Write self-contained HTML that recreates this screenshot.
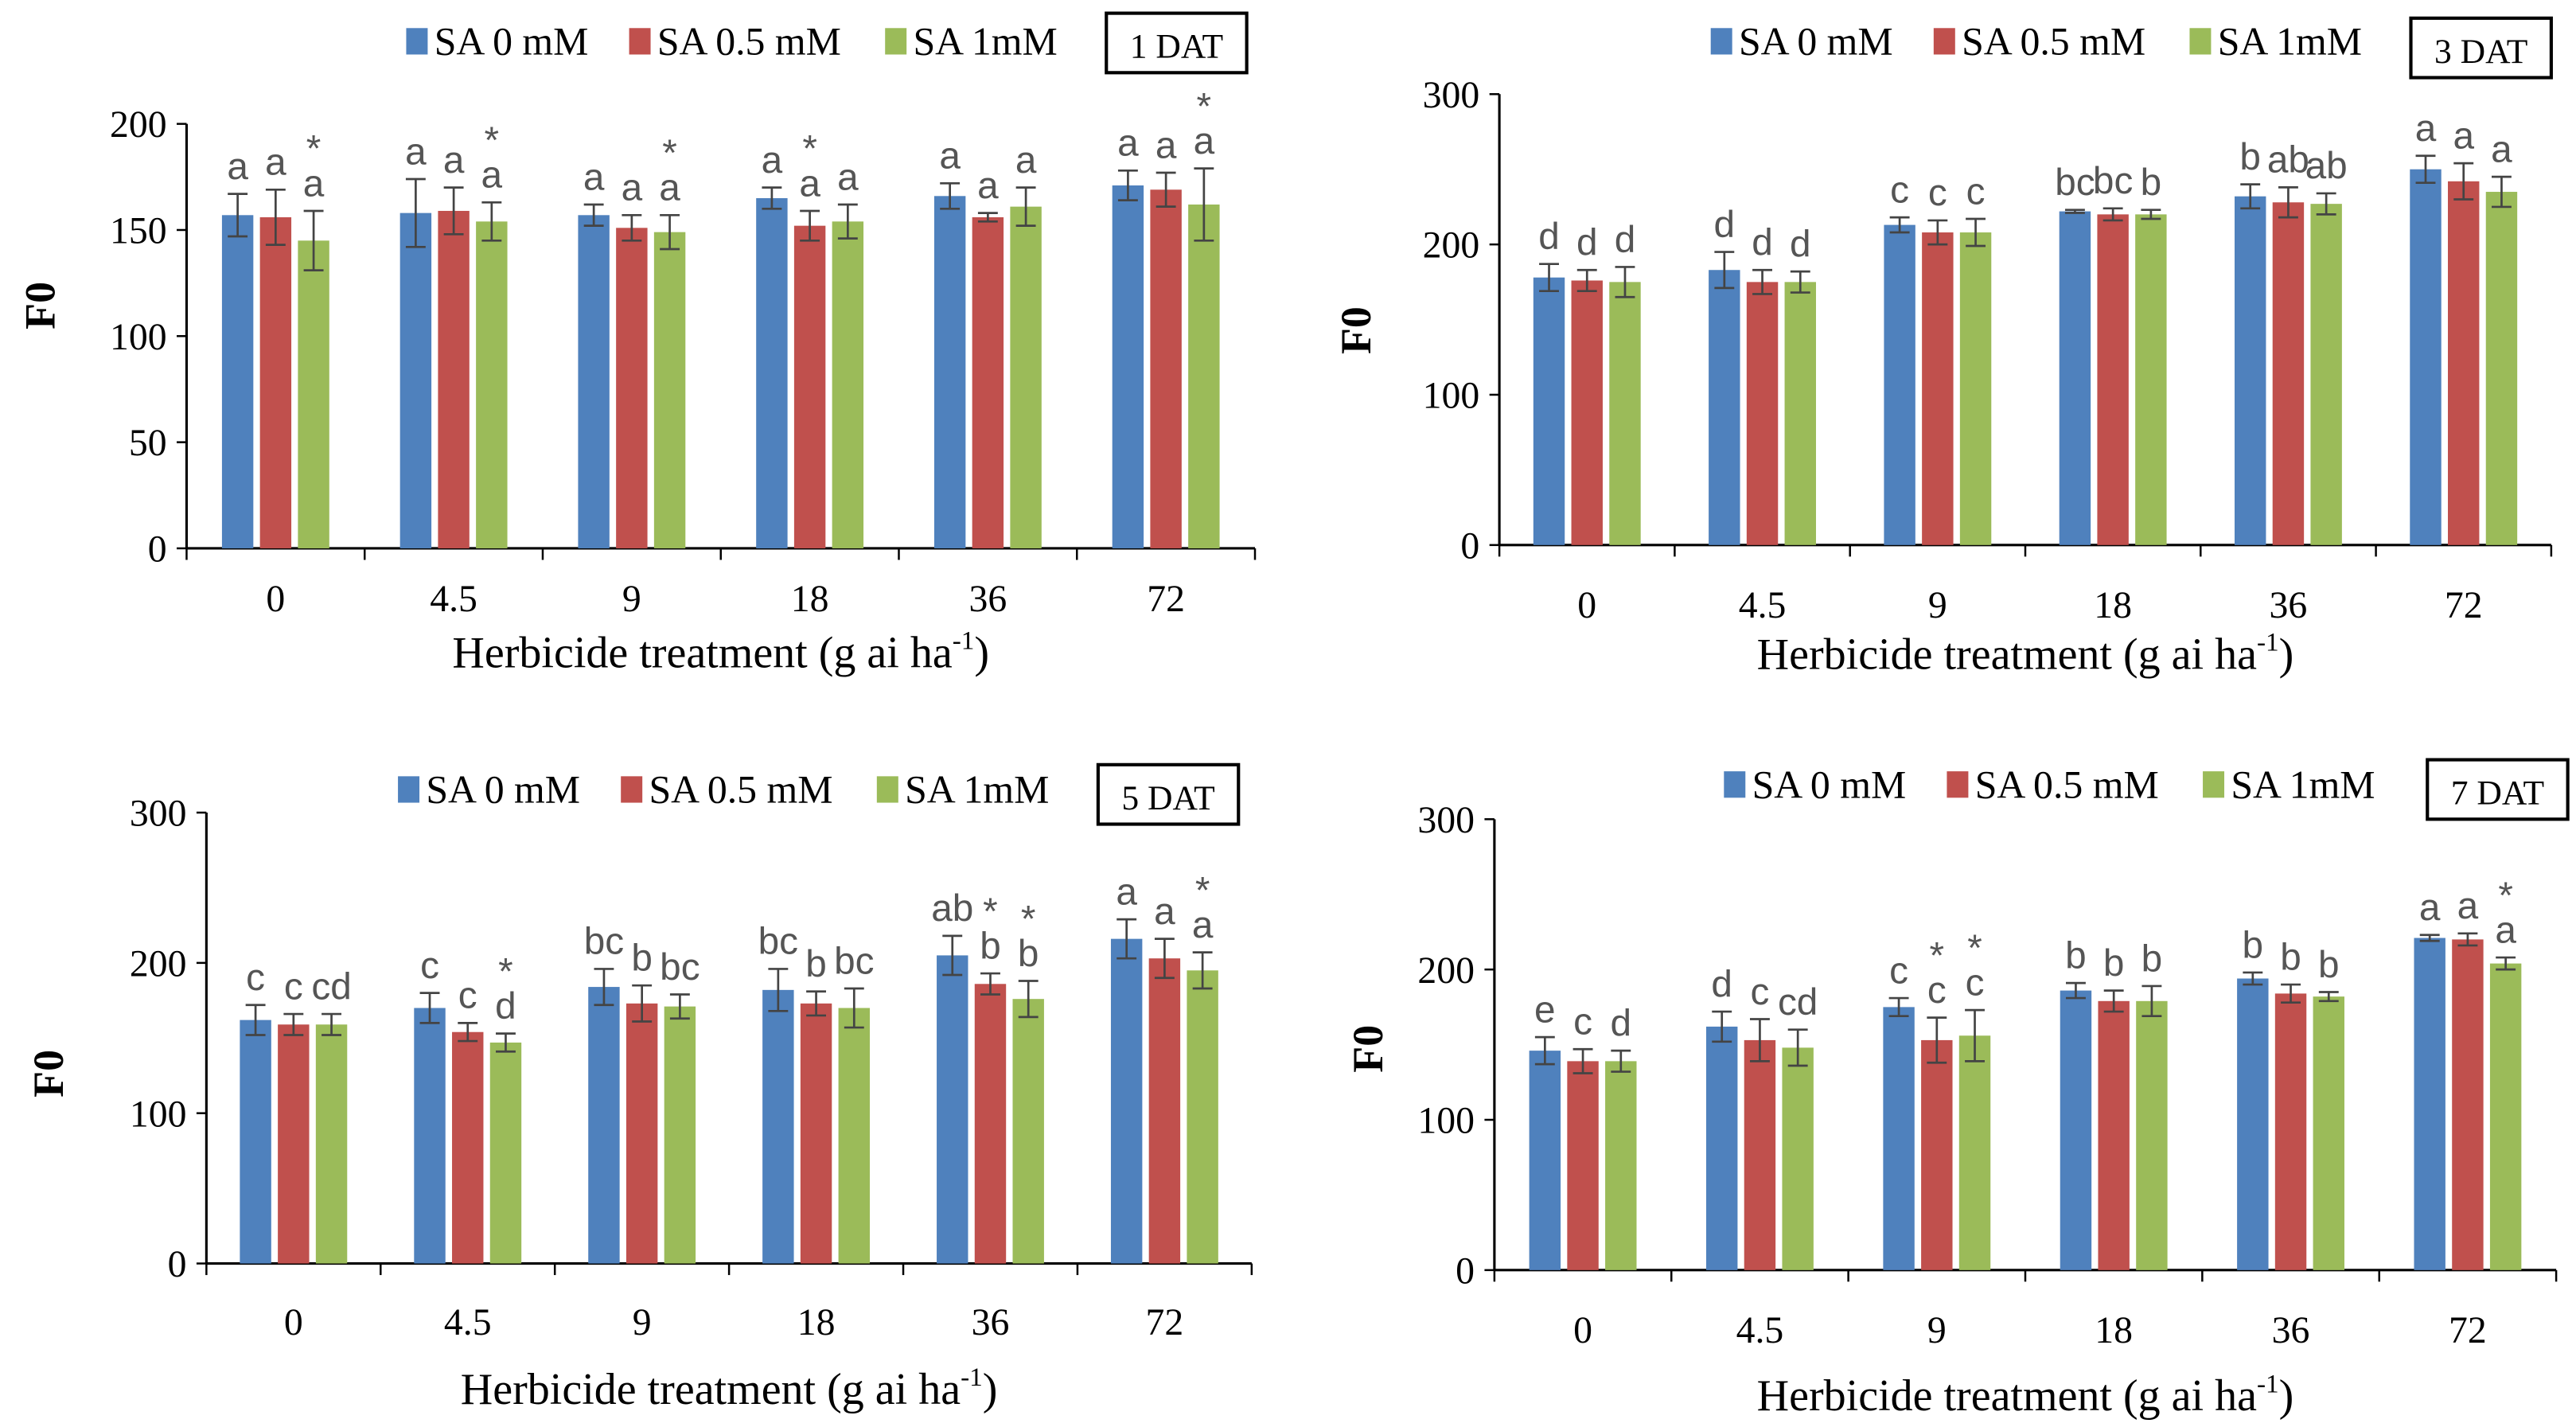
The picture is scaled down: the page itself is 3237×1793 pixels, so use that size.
<!DOCTYPE html>
<html><head><meta charset="utf-8"><style>
html,body{margin:0;padding:0;background:#fff}
svg{display:block}
text{font-family:"Liberation Serif",serif}
.ltr{font-family:"Liberation Sans",sans-serif;fill:#555}
</style></head><body>
<svg id="fig" width="3237" height="1793" viewBox="0 0 1560 864" preserveAspectRatio="none" xmlns="http://www.w3.org/2000/svg"></svg>
<script>
const categories = ["0","4.5","9","18","36","72"];
const seriesNames = ["SA 0 mM","SA 0.5 mM","SA 1mM"];
const colors = ["#4f81bd","#c0504d","#9bbb59"];
// Panel 1 (1 DAT)
const p1Blue = [157,158,157,165,166,171], p1Red = [156,159,151,152,156,169], p1Green = [145,154,149,154,161,162];
const p1ErrBlue = [10,16,5,5,6,7], p1ErrRed = [13,11,6,7,2,8], p1ErrGreen = [14,9,8,8,9,17];
const p1Letters = [["a","a","a"],["a","a","a"],["a","a","a"],["a","a","a"],["a","a","a"],["a","a","a"]];
const p1Stars = [[0,0,1],[0,0,1],[0,0,1],[0,1,0],[0,0,0],[0,0,1]];
const p1Ticks = [0,50,100,150,200];
// Panel 2 (3 DAT)
const p2Blue = [178,183,213,222,232,250], p2Red = [176,175,208,220,228,242], p2Green = [175,175,208,220,227,235];
const p2ErrBlue = [9,12,5,1,8,9], p2ErrRed = [7,8,8,4,10,12], p2ErrGreen = [10,7,9,3,7,10];
const p2Letters = [["d","d","d"],["d","d","d"],["c","c","c"],["bc","bc","b"],["b","ab","ab"],["a","a","a"]];
const p2Stars = [[0,0,0],[0,0,0],[0,0,0],[0,0,0],[0,0,0],[0,0,0]];
const p2Ticks = [0,100,200,300];
// Panel 3 (5 DAT)
const p3Blue = [162,170,184,182,205,216], p3Red = [159,154,173,173,186,203], p3Green = [159,147,171,170,176,195];
const p3ErrBlue = [10,10,12,14,13,13], p3ErrRed = [7,6,12,8,7,13], p3ErrGreen = [7,6,8,13,12,12];
const p3Letters = [["c","c","cd"],["c","c","d"],["bc","b","bc"],["bc","b","bc"],["ab","b","b"],["a","a","a"]];
const p3Stars = [[0,0,0],[0,0,1],[0,0,0],[0,0,0],[0,1,1],[0,0,1]];
const p3Ticks = [0,100,200,300];
// Panel 4 (7 DAT)
const p4Blue = [146,162,175,186,194,221], p4Red = [139,153,153,179,184,220], p4Green = [139,148,156,179,182,204];
const p4ErrBlue = [9,10,6,5,4,2], p4ErrRed = [8,14,15,7,6,4], p4ErrGreen = [7,12,17,10,3,4];
const p4Letters = [["e","c","d"],["d","c","cd"],["c","c","c"],["b","b","b"],["b","b","b"],["a","a","a"]];
const p4Stars = [[0,0,0],[0,0,0],[0,1,1],[0,0,0],[0,0,0],[0,0,1]];
const p4Ticks = [0,100,200,300];

const svg = document.getElementById('fig');
const NS = "http://www.w3.org/2000/svg";
function mk(tag, attrs, parent, txt){
  const e = document.createElementNS(NS, tag);
  for (const k in attrs) e.setAttribute(k, attrs[k]);
  if (txt !== undefined) e.textContent = txt;
  (parent||svg).appendChild(e);
  return e;
}
function panel(cfg, vals, errs, letters, stars, ticks, label){
  const g = mk('g', {});
  
  
  const ymax = ticks[ticks.length-1];
  const yS = v => cfg.y0 - (v/ymax)*(cfg.y0-cfg.yT);
  const step = (cfg.xR - cfg.xL)/categories.length;
  const xC = i => cfg.xL + step*(i+0.5);
  const ya = mk('line',{x1:cfg.xL,y1:cfg.yT,x2:cfg.xL,y2:cfg.y0,stroke:'#000','stroke-width':1.5},g);
  
  
  ticks.forEach(t=>{
    mk('line',{x1:cfg.xL-6,y1:yS(t),x2:cfg.xL,y2:yS(t),stroke:'#000','stroke-width':1.2},g);
    const tl = mk('text',{x:cfg.xL-12,y:yS(t)+8,'text-anchor':'end','font-size':23},g,String(t));
    
    
  });
  const xa = mk('line',{x1:cfg.xL,y1:cfg.y0,x2:cfg.xR,y2:cfg.y0,stroke:'#000','stroke-width':1.5},g);
  
  
  for (let i=0;i<=categories.length;i++){
    const tx = cfg.xL+step*i;
    mk('line',{x1:tx,y1:cfg.y0,x2:tx,y2:cfg.y0+7,stroke:'#000','stroke-width':1.2},g);
  }
  categories.forEach((c,i)=>{
    const tl = mk('text',{x:xC(i),y:cfg.y0+cfg.tl,'text-anchor':'middle','font-size':23},g,c);
    
    
  });
  const bw = 19, gap = 23;
  vals.forEach((series,s)=>{
    series.forEach((v,i)=>{
      const cx = xC(i) + (s-1)*gap;
      const b = mk('rect',{x:cx-bw/2,y:yS(v),width:bw,height:cfg.y0-yS(v),fill:colors[s]},g);
      
      
      const e = errs[s][i];
      const yt = yS(v+e), yb = yS(v-e);
      mk('line',{x1:cx,y1:yt,x2:cx,y2:yb,stroke:'#444','stroke-width':1.3},g);
      mk('line',{x1:cx-6,y1:yt,x2:cx+6,y2:yt,stroke:'#444','stroke-width':1.3},g);
      mk('line',{x1:cx-6,y1:yb,x2:cx+6,y2:yb,stroke:'#444','stroke-width':1.3},g);
      const lt = mk('text',{x:cx,y:yt-9,'text-anchor':'middle','font-size':23,class:'ltr'},g,letters[i][s]);
      
      
      if (stars[i][s]){
        const st = mk('text',{x:cx,y:yt-30,'text-anchor':'middle','font-size':23,class:'ltr'},g,'*');
        
        
      }
    });
  });
  const yt = mk('text',{x:cfg.fx,y:cfg.fy,'text-anchor':'middle','font-size':26,'font-weight':'bold',transform:`rotate(-90 ${cfg.fx} ${cfg.fy})`},g,'F0');
  
  
  const xt = mk('text',{x:(cfg.xL+cfg.xR)/2,y:cfg.ty,'text-anchor':'middle','font-size':27},g);
  
  
  xt.appendChild(document.createTextNode('Herbicide treatment (g ai ha'));
  mk('tspan',{'font-size':16,dy:-11},xt,'-1');
  mk('tspan',{dy:11},xt,')');
  let lx = cfg.lx;
  seriesNames.forEach((n,s)=>{
    const le = mk('g',{},g);
    
    
    mk('rect',{x:lx,y:cfg.ly-16,width:13,height:16,fill:colors[s]},le);
    mk('text',{x:lx+17,y:cfg.ly,'font-size':24},le,n);
    lx += 17 + [118,138,112][s];
  });
  const bx = mk('rect',{x:cfg.bx,y:cfg.by,width:85,height:36,fill:'#fff',stroke:'#000','stroke-width':2},g);
  
  
  const bt = mk('text',{x:cfg.bx+42.5,y:cfg.by+27,'text-anchor':'middle','font-size':21},g,label);
  
  
}
panel({xL:113,xR:760,yT:75,y0:332,fx:33,fy:185,ty:404,tl:38,lx:246,ly:33,bx:670,by:8},
  [p1Blue,p1Red,p1Green],[p1ErrBlue,p1ErrRed,p1ErrGreen],p1Letters,p1Stars,p1Ticks,'1 DAT');
panel({xL:908,xR:1545,yT:57,y0:330,fx:830,fy:200,ty:405,tl:44,lx:1036,ly:33,bx:1460,by:11},
  [p2Blue,p2Red,p2Green],[p2ErrBlue,p2ErrRed,p2ErrGreen],p2Letters,p2Stars,p2Ticks,'3 DAT');
panel({xL:125,xR:758,yT:492,y0:765,fx:38,fy:650,ty:850,tl:43,lx:241,ly:486,bx:665,by:463},
  [p3Blue,p3Red,p3Green],[p3ErrBlue,p3ErrRed,p3ErrGreen],p3Letters,p3Stars,p3Ticks,'5 DAT');
panel({xL:905,xR:1548,yT:496,y0:769,fx:837,fy:635,ty:854,tl:44,lx:1044,ly:483,bx:1470,by:460},
  [p4Blue,p4Red,p4Green],[p4ErrBlue,p4ErrRed,p4ErrGreen],p4Letters,p4Stars,p4Ticks,'7 DAT');
</script>
</body></html>
